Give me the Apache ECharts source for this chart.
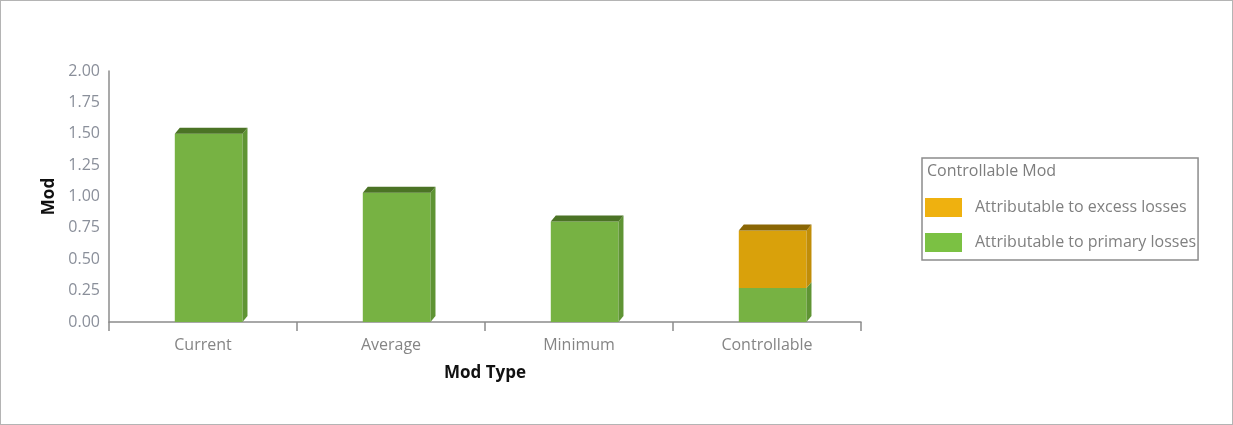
<!DOCTYPE html>
<html>
<head>
<meta charset="utf-8">
<script src="https://cdn.jsdelivr.net/npm/echarts@6/dist/echarts.min.js"></script>
<style>
  html, body { margin: 0; padding: 0; background: #fff; }
  #frame { width: 1231px; height: 423px; border: 1px solid #b4b4b4; }
  #chart { width: 1231px; height: 423px; }
</style>
</head>
<body>
<div id="frame"><div id="chart"></div></div>
<script>
// Mod values per mod type
const categories = ['Current', 'Average', 'Minimum', 'Controllable'];
const primaryLosses = [1.50, 1.03, 0.80, 0.27];
const excessLosses = [0, 0, 0, 0.46];
const yTicks = { min: 0, max: 2, interval: 0.25 };

const seriesNames = ['Attributable to excess losses', 'Attributable to primary losses'];

// Face colours for the pseudo-3D bars: front, top, side
const palette = {
  primary: { front: '#77b243', top: '#4b7325', side: '#5f9434', legend: '#7bc143' },
  excess: { front: '#d9a10b', top: '#8a6604', side: '#c08d08', legend: '#efb10f' }
};

const FONT = 'Open Sans';

// rows: [categoryIndex, base, top, drawTopFace]
const primaryRows = categories.map((c, i) => [i, 0, primaryLosses[i], excessLosses[i] > 0 ? 0 : 1]);
const excessRows = categories.map((c, i) => [i, primaryLosses[i], primaryLosses[i] + excessLosses[i], 1]);

function makeRenderer(colors) {
  return function (params, api) {
    const idx = api.value(0);
    const lo = api.value(1);
    const hi = api.value(2);
    const showTop = api.value(3) === 1;
    if (hi <= lo) return null;
    const band = api.size([1, 0])[0];
    const pLo = api.coord([idx, lo]);
    const pHi = api.coord([idx, hi]);
    const w = band * 0.36;
    const x0 = pLo[0] - w / 2 + band * 0.03;
    const x1 = x0 + w;
    const yb = pLo[1];
    const yt = pHi[1];
    const dx = 5, dy = 6;
    const children = [
      { type: 'rect', shape: { x: x0, y: yt, width: w, height: yb - yt }, style: { fill: colors.front } },
      { type: 'polygon', shape: { points: [[x1, yb], [x1 + dx, yb - dy], [x1 + dx, yt - dy], [x1, yt]] }, style: { fill: colors.side } }
    ];
    if (showTop) {
      children.push({ type: 'polygon', shape: { points: [[x0, yt], [x0 + dx, yt - dy], [x1 + dx, yt - dy], [x1, yt]] }, style: { fill: colors.top } });
    }
    return { type: 'group', children };
  };
}

const chart = echarts.init(document.getElementById('chart'));
chart.setOption({
  animation: false,
  title: {
    text: 'Controllable Mod',
    left: 921,
    top: 157,
    textStyle: { fontFamily: FONT, fontSize: 16, fontWeight: 'normal', color: '#7d7d7d' }
  },
  legend: {
    orient: 'vertical',
    left: 921,
    top: 157,
    data: seriesNames,
    icon: 'rect',
    itemWidth: 37,
    itemHeight: 19,
    itemGap: 16,
    padding: [40, 2, 8, 3],
    borderColor: '#8c8c8c',
    borderWidth: 1.5,
    selectedMode: false,
    textStyle: { fontFamily: FONT, fontSize: 16, color: '#808080', padding: [0, 0, 0, 8] }
  },
  grid: { left: 108, right: 371, top: 70, bottom: 102, containLabel: false },
  xAxis: {
    type: 'category',
    data: categories,
    name: 'Mod Type',
    nameLocation: 'middle',
    nameGap: 43,
    nameTextStyle: { fontFamily: FONT, fontSize: 17, fontWeight: 'bold', color: '#111' },
    axisLine: { lineStyle: { color: '#8c8c8c', width: 1.5 } },
    axisTick: { show: true, length: 9, lineStyle: { color: '#8c8c8c', width: 1.5 } },
    axisLabel: { fontFamily: FONT, fontSize: 16, color: '#858585', margin: 15 },
    splitLine: { show: false }
  },
  yAxis: {
    type: 'value',
    min: yTicks.min,
    max: yTicks.max,
    interval: yTicks.interval,
    name: 'Mod',
    nameLocation: 'middle',
    nameRotate: 90,
    nameGap: 39,
    nameTextStyle: { fontFamily: FONT, fontSize: 17, fontWeight: 'bold', color: '#111' },
    axisLine: { show: true, lineStyle: { color: '#8c8c8c', width: 1.5 } },
    axisTick: { show: false },
    axisLabel: { fontFamily: FONT, fontSize: 16, color: '#8a8f9a', margin: 9, formatter: v => v.toFixed(2) },
    splitLine: { show: false }
  },
  series: [
    {
      name: seriesNames[1],
      type: 'custom',
      renderItem: makeRenderer(palette.primary),
      itemStyle: { color: palette.primary.legend },
      encode: { x: 0, y: [1, 2] },
      data: primaryRows,
      z: 2
    },
    {
      name: seriesNames[0],
      type: 'custom',
      renderItem: makeRenderer(palette.excess),
      itemStyle: { color: palette.excess.legend },
      encode: { x: 0, y: [1, 2] },
      data: excessRows,
      z: 3
    }
  ]
});
</script>
</body>
</html>
